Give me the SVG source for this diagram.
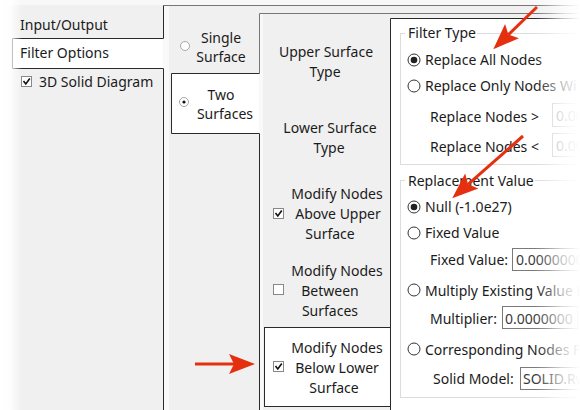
<svg xmlns="http://www.w3.org/2000/svg" width="580" height="410" viewBox="0 0 580 410">
<style>
.t{font-family:"Noto Sans","Open Sans","DejaVu Sans",sans-serif;font-size:14px;fill:#1b1b1b}
.m{text-anchor:middle}
.gb{fill:none;stroke:#dcdcdc;stroke-width:1}
.box{fill:#fff;stroke:#7a7a7a;stroke-width:1}
.boxd{fill:#fff;stroke:#cdcdcd;stroke-width:1}
.dim{fill:#a0a0a0}
.val{fill:#3a3a3a}
.rb{fill:#fff;stroke:#333;stroke-width:1}
.dot{fill:#222}
.cb{fill:#fff;stroke:#888;stroke-width:1}
.ck{fill:none;stroke:#111;stroke-width:1.6}
.edge{fill:none;stroke:#2a2a2a;stroke-width:1}
.edge2{fill:none;stroke:#777;stroke-width:1}
.arrow{fill:none;stroke:#e4300f;stroke-width:3}
</style>
<defs>
<marker id="ah" markerUnits="userSpaceOnUse" markerWidth="40" markerHeight="40" refX="0" refY="0" orient="auto" overflow="visible">
<path d="M-5,-10 L21,0 L-5,10 L0,0 Z" fill="#e4300f"/>
</marker>
<linearGradient id="fadeR" x1="0" y1="0" x2="1" y2="0">
<stop offset="0" stop-color="#fff" stop-opacity="0"/>
<stop offset="0.3" stop-color="#fff" stop-opacity="0.3"/>
<stop offset="0.6" stop-color="#fff" stop-opacity="0.7"/>
<stop offset="1" stop-color="#fff" stop-opacity="1"/>
</linearGradient>
<linearGradient id="fadeL" x1="0" y1="0" x2="1" y2="0">
<stop offset="0" stop-color="#fff" stop-opacity="1"/>
<stop offset="0.45" stop-color="#fff" stop-opacity="0.9"/>
<stop offset="1" stop-color="#fff" stop-opacity="0"/>
</linearGradient>
</defs>

<rect x="0" y="0" width="580" height="410" fill="#f0f0f0"/>
<rect x="0" y="0" width="580" height="5" fill="#f8f8f8"/>
<rect x="164" y="6" width="5" height="404" fill="#f9f9f9"/>
<rect x="260" y="14" width="3" height="396" fill="#f9f9f9"/>
<rect x="391" y="19" width="189" height="391" fill="#fff"/>

<g id="frame">
<path class="edge2" d="M163.5,5.5 H580"/>
<path class="edge" d="M163.5,5.5 V38.5 M163.5,68.5 V410"/>
<path class="edge2" d="M259.5,13.5 H580 M259.5,13.5 V73.5"/>
<path class="edge" d="M259.5,133.5 V410"/>
<path class="edge" d="M390.5,18.5 H580 M390.5,18.5 V410"/>
</g>

<g id="tab-input-output"><text class="t" x="20" y="30">Input/Output</text></g>
<g id="tab-filter-options">
<path d="M163.5,38.5 H12.5 V68.5 H163.5 Z" fill="#fff" stroke="none"/>
<path class="edge" d="M163.5,38.5 H12.5 V68.5 H163.5"/>
<text class="t" x="20" y="58">Filter Options</text>
</g>
<g id="tab-3d-solid">
<rect class="cb" x="21.5" y="76.5" width="10" height="10"/>
<path class="ck" d="M23.5,81 L25.8,84 L29.8,78.5"/>
<text class="t" x="39" y="87">3D Solid Diagram</text>
</g>

<g id="tab-single-surface">
<circle cx="185" cy="46" r="4.5" fill="#fff" stroke="#a8a8a8"/>
<text class="t m" x="221" y="43">Single</text>
<text class="t m" x="221" y="62">Surface</text>
</g>
<g id="tab-two-surfaces">
<path d="M259.5,73.5 H171.5 V133.5 H259.5 Z" fill="#fff" stroke="none"/>
<path class="edge" d="M259.5,73.5 H171.5 V133.5 H259.5"/>
<circle cx="184" cy="102" r="4.5" fill="#fff" stroke="#a8a8a8"/>
<circle cx="184" cy="102" r="1.6" fill="#111"/>
<text class="t m" x="221" y="100">Two</text>
<text class="t m" x="225" y="119">Surfaces</text>
</g>

<g id="tab-upper-surface-type">
<text class="t m" x="326" y="57">Upper Surface</text>
<text class="t m" x="325" y="77">Type</text>
</g>
<g id="tab-lower-surface-type">
<text class="t m" x="330" y="133">Lower Surface</text>
<text class="t m" x="329" y="153">Type</text>
</g>
<g id="tab-above-upper">
<rect class="cb" x="273.5" y="208.5" width="10" height="10"/>
<path class="ck" d="M275.5,213 L277.8,216 L281.8,210.5"/>
<text class="t m" x="337" y="199">Modify Nodes</text>
<text class="t m" x="338" y="219">Above Upper</text>
<text class="t m" x="330" y="239">Surface</text>
</g>
<g id="tab-between">
<rect class="cb" x="273.5" y="284.5" width="10" height="10"/>
<text class="t m" x="337" y="276">Modify Nodes</text>
<text class="t m" x="330" y="296">Between</text>
<text class="t m" x="330" y="316">Surfaces</text>
</g>
<g id="tab-below-lower">
<rect x="264.5" y="327.5" width="126" height="79" fill="#fff" stroke="#2a2a2a"/>
<rect class="cb" x="273.5" y="361.5" width="10" height="10"/>
<path class="ck" d="M275.5,366 L277.8,369 L281.8,363.5"/>
<text class="t m" x="337" y="353">Modify Nodes</text>
<text class="t m" x="337" y="373">Below Lower</text>
<text class="t m" x="334" y="393">Surface</text>
</g>

<g id="group-filter-type">
<rect class="gb" x="400.5" y="33.5" width="200" height="131"/>
<rect x="405" y="26" width="72" height="14" fill="#fff"/>
<text class="t" x="408" y="38">Filter Type</text>
<g id="opt-replace-all">
<circle class="rb" cx="414" cy="60" r="6"/>
<circle class="dot" cx="414" cy="60" r="3.3"/>
<text class="t" x="425" y="65">Replace All Nodes</text>
</g>
<g id="opt-replace-only">
<circle class="rb" cx="414" cy="86" r="6"/>
<text class="t" x="425" y="91">Replace Only Nodes Wi</text>
</g>
<g id="field-gt">
<text class="t" x="430" y="122">Replace Nodes &gt;</text>
<rect class="boxd" x="552.5" y="103.5" width="40" height="23"/>
<text class="t dim" x="556" y="121">0.00</text>
</g>
<g id="field-lt">
<text class="t" x="430" y="152">Replace Nodes &lt;</text>
<rect class="boxd" x="552.5" y="133.5" width="40" height="23"/>
<text class="t dim" x="556" y="151">0.00</text>
</g>
</g>

<g id="group-replacement-value">
<rect class="gb" x="400.5" y="180.5" width="200" height="217"/>
<rect x="405" y="173" width="130" height="14" fill="#fff"/>
<text class="t" x="408" y="186">Replacement Value</text>
<g id="opt-null">
<circle class="rb" cx="414" cy="207" r="6"/>
<circle class="dot" cx="414" cy="207" r="3.3"/>
<text class="t" x="425" y="212">Null (-1.0e27)</text>
</g>
<g id="opt-fixed">
<circle class="rb" cx="414" cy="233" r="6"/>
<text class="t" x="425" y="238">Fixed Value</text>
</g>
<g id="field-fixed">
<text class="t" x="430" y="265">Fixed Value:</text>
<rect class="box" x="512.5" y="248.5" width="80" height="22"/>
<text class="t val" x="516" y="265">0.0000000</text>
</g>
<g id="opt-multiply">
<circle class="rb" cx="414" cy="290" r="6"/>
<text class="t" x="425" y="296">Multiply Existing Value B</text>
</g>
<g id="field-multiplier">
<text class="t" x="430" y="324">Multiplier:</text>
<rect class="box" x="502.5" y="306.5" width="75" height="22"/>
<text class="t val" x="505" y="324">0.0000000</text>
</g>
<g id="opt-corresponding">
<circle class="rb" cx="414" cy="349" r="6"/>
<text class="t" x="425" y="355">Corresponding Nodes F</text>
</g>
<g id="field-solid-model">
<text class="t" x="433" y="384">Solid Model:</text>
<rect class="box" x="520.5" y="367.5" width="80" height="22"/>
<text class="t val" x="523" y="384">SOLID.Rw</text>
</g>
</g>

<g id="connectors">
<path class="arrow" d="M537,7 L508.4,34.6" marker-end="url(#ah)"/>
<path class="arrow" d="M523,136 L468,184.3" marker-end="url(#ah)"/>
<path class="arrow" d="M195,364 L234,364" marker-end="url(#ah)"/>
</g>

<rect x="535" y="0" width="45" height="410" fill="url(#fadeR)"/>
<rect x="0" y="0" width="22" height="410" fill="url(#fadeL)"/>
</svg>
